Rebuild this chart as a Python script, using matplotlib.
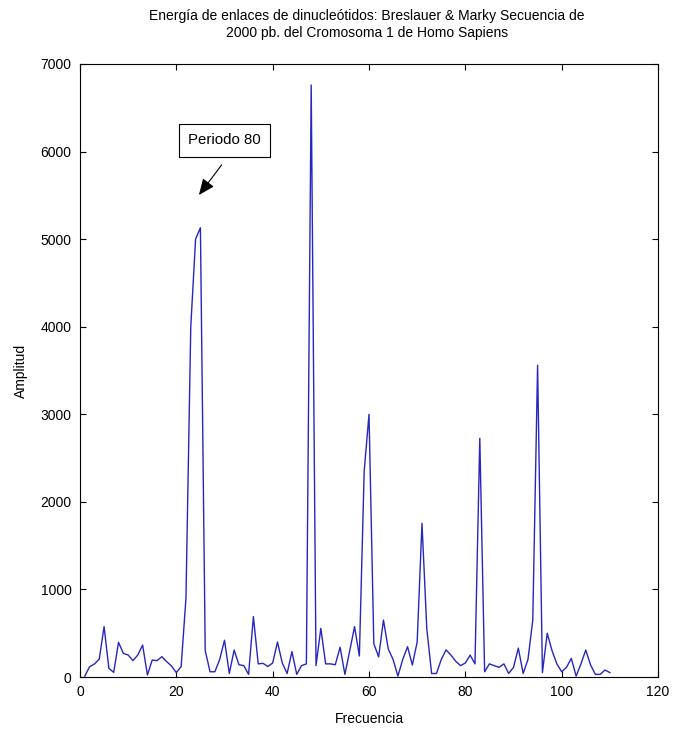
import matplotlib
matplotlib.use("Agg")
import matplotlib.pyplot as plt

# frecuencia (1..110) y amplitud
frecuencia = list(range(1, 111))
amplitud = [
    10, 118, 148, 205, 575, 99, 53, 396, 270, 251,
    187, 251, 365, 23, 194, 187, 232, 175, 126, 50,
    120, 900, 4000, 5000, 5130, 300, 60, 60, 200, 420,
    40, 308, 140, 130, 30, 690, 150, 156, 120, 160,
    400, 160, 40, 290, 30, 130, 150, 6760, 130, 556,
    150, 150, 140, 340, 30, 300, 575, 240, 2350, 3000,
    380, 230, 650, 320, 200, 10, 200, 346, 137, 400,
    1755, 550, 40, 40, 200, 310, 250, 180, 130, 160,
    250, 150, 2725, 60, 150, 130, 110, 150, 40, 110,
    330, 40, 200, 650, 3560, 50, 500, 300, 150, 60,
    110, 213, 10, 150, 308, 137, 30, 30, 80, 50,
]

xticks = [0, 20, 40, 60, 80, 100, 120]
yticks = [0, 1000, 2000, 3000, 4000, 5000, 6000, 7000]

titulo = ("Energía de enlaces de dinucleótidos: Breslauer & Marky Secuencia de\n"
          "2000 pb. del Cromosoma 1 de Homo Sapiens")

plt.rcParams["font.family"] = ["Liberation Sans", "DejaVu Sans"]
plt.rcParams["font.size"] = 10

fig = plt.figure(figsize=(6.79, 7.37), dpi=100)
ax = fig.add_axes([0.1178, 0.0814, 0.8513, 0.8318])

ax.plot(frecuencia, amplitud, color="#2626c0", lw=1.0)

ax.set_xlim(0, 120)
ax.set_ylim(0, 7000)
ax.set_xticks(xticks)
ax.set_yticks(yticks)
ax.tick_params(direction="in", top=True, right=True, length=4, width=0.8, pad=6)
for s in ax.spines.values():
    s.set_linewidth(0.8)

ax.set_xlabel("Frecuencia", labelpad=9)
ax.set_ylabel("Amplitud", labelpad=9)

fig.text(0.5405, 1 - 40 / 737, titulo, ha="center", va="bottom", linespacing=1.25)

# caja de texto y flecha por separado
ax.text(30.0, 6127, "Periodo 80", ha="center", va="center", fontsize=10.8,
        bbox=dict(boxstyle="square,pad=0.62", fc="white", ec="black", lw=0.8))
ax.annotate("", xy=(24.7, 5504), xytext=(29.4, 5847),
            arrowprops=dict(arrowstyle="-|>,head_length=0.7,head_width=0.3",
                            color="black", lw=0.8, shrinkA=0, shrinkB=0,
                            mutation_scale=14))

fig.savefig("out.png", dpi=100)
